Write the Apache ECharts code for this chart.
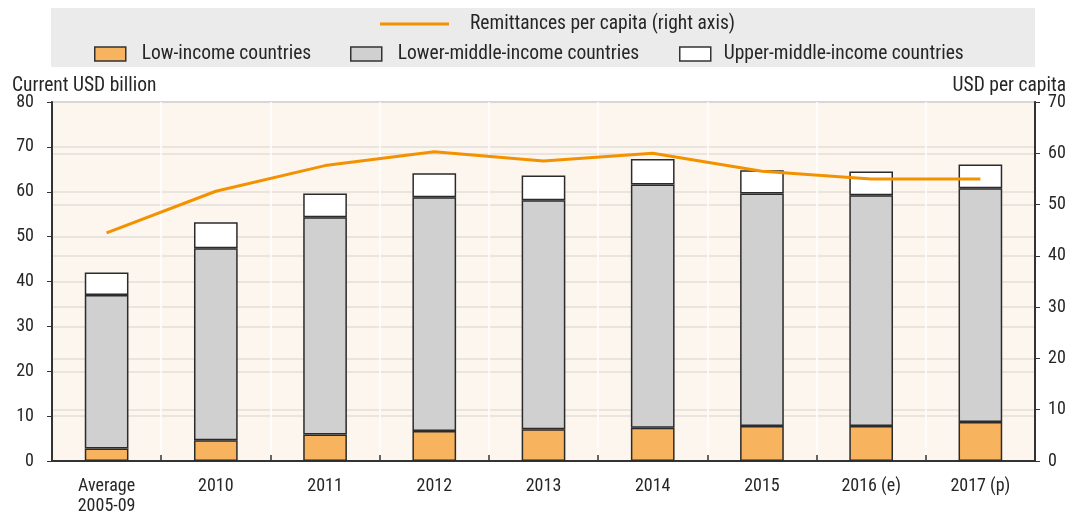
<!DOCTYPE html>
<html><head><meta charset="utf-8">
<script src="https://cdn.jsdelivr.net/npm/echarts@6/dist/echarts.min.js"></script>
<style>html,body{margin:0;padding:0;background:#fff}#c{width:1072px;height:515px}</style>
</head><body><div id="c"></div>
<script>
const categories = ['Average\n2005-09','2010','2011','2012','2013','2014','2015','2016 (e)','2017 (p)'];
const lowIncome = [2.8, 4.6, 5.9, 6.7, 7.1, 7.4, 7.8, 7.8, 8.7];
const lowerMiddle = [34.2, 42.8, 48.4, 52.1, 51.0, 54.2, 51.8, 51.4, 52.1];
const upperMiddle = [5.0, 5.8, 5.3, 5.3, 5.5, 5.7, 5.2, 5.3, 5.3];
const perCapita = [44.5, 52.6, 57.6, 60.3, 58.5, 60.0, 56.5, 55.0, 55.0];
const seriesNames = ['Low-income countries','Lower-middle-income countries','Upper-middle-income countries','Remittances per capita (right axis)'];

const FONT = 'Roboto';
const STRETCH = 'semi-condensed';
const TXT = '#262626';
const chart = echarts.init(document.getElementById('c'), null, {renderer:'canvas'});
const barBorder = {borderColor:'#2b2b2b', borderWidth:1.5};
const legTxt = {fontFamily:FONT, fontStyle:STRETCH, fontSize:19.5, color:TXT};
function barLegend(name, left, gap){
  return {data:[{name:name, icon:'rect', itemStyle:{borderColor:'#333', borderWidth:1.5}}], left:left, top:44, padding:0,
    itemWidth:31, itemHeight:14, textStyle:Object.assign({padding:[0,0,0,gap]}, legTxt)};
}
chart.setOption({
  animation:false,
  textStyle:{fontFamily:FONT, fontStyle:STRETCH},
  graphic:[
    {type:'rect', shape:{x:51,y:8,width:984,height:59}, style:{fill:'#ebebeb'}, z:-1},
    {type:'text', x:12, y:86, style:{text:'Current USD billion', font:STRETCH+' 19.5px '+FONT, fill:TXT, verticalAlign:'middle'}},
    {type:'text', x:1066, y:86, style:{text:'USD per capita', font:STRETCH+' 19.5px '+FONT, fill:TXT, align:'right', verticalAlign:'middle'}}
  ],
  legend:[
    {data:[{name:seriesNames[3], icon:'rect'}], left:380, top:14, padding:0, itemWidth:69, itemHeight:3,
     textStyle:Object.assign({padding:[0,0,0,16]}, legTxt)},
    barLegend(seriesNames[0], 94, 11),
    barLegend(seriesNames[1], 350, 11),
    barLegend(seriesNames[2], 679, 8)
  ],
  grid:{left:52, right:37, top:102, bottom:54, outerBoundsMode:'none', containLabel:false,
    show:true, backgroundColor:'#fdf6ef', borderColor:'#333', borderWidth:1.5},
  xAxis:{type:'category', data:categories, boundaryGap:true,
    axisLine:{lineStyle:{color:'#333', width:2}},
    axisTick:{show:true, inside:true, length:6, lineStyle:{color:'#333', width:1.5}},
    splitLine:{show:true, lineStyle:{color:'#ffffff', width:1.5}},
    axisLabel:{fontFamily:FONT, fontStyle:STRETCH, fontSize:18, color:TXT, margin:15, lineHeight:20, verticalAlign:'top'}},
  yAxis:[
    {type:'value', min:0, max:80, interval:10,
     axisLine:{show:true, lineStyle:{color:'#333', width:2}},
     axisTick:{show:true, length:5, lineStyle:{color:'#333'}},
     splitLine:{show:true, lineStyle:{color:'#e3ded8', width:1.5}},
     axisLabel:{fontFamily:FONT, fontStyle:STRETCH, fontSize:18, color:TXT, margin:18}},
    {type:'value', min:0, max:70, interval:10, position:'right',
     axisLine:{show:true, lineStyle:{color:'#333', width:2}},
     axisTick:{show:true, length:5, lineStyle:{color:'#333'}},
     splitLine:{show:true, lineStyle:{color:'#e3ded8', width:1.5}},
     axisLabel:{fontFamily:FONT, fontStyle:STRETCH, fontSize:18, color:TXT, margin:13}}
  ],
  series:[
    {name:seriesNames[0], type:'bar', stack:'a', data:lowIncome, barWidth:'40%',
     itemStyle:Object.assign({color:'#f8b35e'}, barBorder)},
    {name:seriesNames[1], type:'bar', stack:'a', data:lowerMiddle,
     itemStyle:Object.assign({color:'#d0d0d0'}, barBorder)},
    {name:seriesNames[2], type:'bar', stack:'a', data:upperMiddle,
     itemStyle:Object.assign({color:'#ffffff'}, barBorder)},
    {name:seriesNames[3], type:'line', yAxisIndex:1, data:perCapita,
     symbol:'none', lineStyle:{color:'#f39200', width:3}, itemStyle:{color:'#f39200'}, z:5}
  ]
});
</script></body></html>
